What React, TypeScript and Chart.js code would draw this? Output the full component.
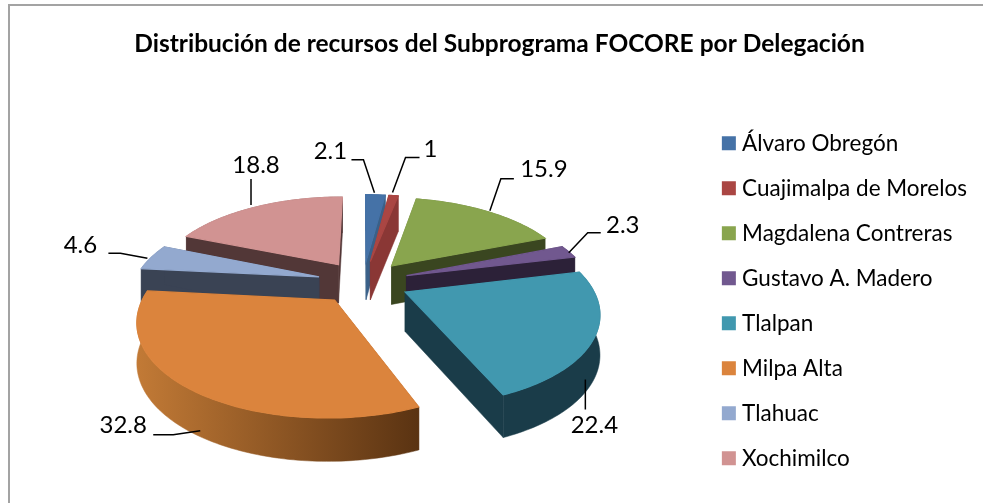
import React, { useEffect, useRef } from "react";
import { Chart, registerables } from "chart.js";

Chart.register(...registerables);

const titleText = "Distribución de recursos del Subprograma FOCORE por Delegación";
const delegaciones = [
  "Álvaro Obregón",
  "Cuajimalpa de Morelos",
  "Magdalena Contreras",
  "Gustavo A. Madero",
  "Tlalpan",
  "Milpa Alta",
  "Tlahuac",
  "Xochimilco",
];
const valores = [2.1, 1, 15.9, 2.3, 22.4, 32.8, 4.6, 18.8];
const topColors = ["#4572A7", "#AA4643", "#89A54E", "#71588F", "#4198AF", "#DB843D", "#93A9CF", "#D19392"];
const wallStart = ["#3a6088", "#8a3735", "#3a4620", "#2c2138", "#1a3c49", "#c27a36", "#3a4354", "#523737"];
const wallEnd = ["#3a6088", "#8a3735", "#3a4620", "#2c2138", "#1a3c49", "#5a3312", "#3a4354", "#523737"];
// leader line and label offsets from each slice's rim anchor: [start, elbow, end, text]
const leaderOffsets: number[][][] = [
  [[-1, -2], [-12, -35], [-24, -35], [-45, -44]],
  [[-1, -3], [12, -38], [26, -38], [37, -46]],
  [[2, -1], [13, -33], [26, -33], [56, -42]],
  [[0, 1], [19, -19], [32, -19], [54, -26]],
  [[-9, 1], [-9, 31], [-9, 31], [0, 47]],
  [[8, -2], [-19, 2], [-39, 2], [-69, -8]],
  [[-4, 1], [-31, -4], [-43, -4], [-71, -12]],
  [[-5, -2], [-5, -28], [-5, -28], [0, -42]],
];

const PERSPECTIVE = 0.00105;
const TILT = 0.47;
const DEPTH = 39;

const pie3d = {
  id: "pie3d",
  beforeDraw(chart: any) {
    const { ctx } = chart;
    ctx.save();
    ctx.fillStyle = "#ffffff";
    ctx.fillRect(0, 0, chart.width, chart.height);
    ctx.strokeStyle = "#a3a3a3";
    ctx.lineWidth = 2;
    ctx.strokeRect(9, 5, 1000, 520);
    ctx.restore();
  },
  beforeDatasetsDraw(chart: any) {
    const { ctx } = chart;
    const arcs = chart.getDatasetMeta(0).data;
    const geo = arcs.map((el: any, i: number) => {
      const p = el.getProps(["x", "y", "startAngle", "endAngle", "outerRadius"], true);
      const a0 = p.startAngle + Math.PI / 2;
      const a1 = p.endAngle + Math.PI / 2;
      const mid = (a0 + a1) / 2;
      const off = el.options.offset;
      const eu = off * Math.sin(mid);
      const ev = off * Math.cos(mid);
      const project = (r: number, a: number, lower: boolean) => {
        const u = eu + r * Math.sin(a);
        const v = ev + r * Math.cos(a);
        const w = 1 + PERSPECTIVE * v;
        return {
          x: p.x + u / w,
          y: p.y - (TILT * v) / w + (lower ? DEPTH / Math.pow(w, 0.4) : 0),
        };
      };
      return { i, a0, a1, mid, ev, R: p.outerRadius, project };
    });
    const order = [...geo].sort((a: any, b: any) => b.ev - a.ev);
    for (const g of order) {
      const rim = (lower: boolean) => {
        const pts = [];
        const steps = Math.max(4, Math.ceil((g.a1 - g.a0) / 0.02));
        for (let s = 0; s <= steps; s++) {
          pts.push(g.project(g.R, g.a0 + ((g.a1 - g.a0) * s) / steps, lower));
        }
        return pts;
      };
      const top = rim(false);
      const low = rim(true);
      const cTop = g.project(0, 0, false);
      const cLow = g.project(0, 0, true);
      const poly = (pts: any[], fill: any, edge: number) => {
        ctx.beginPath();
        pts.forEach((q: any, k: number) => (k ? ctx.lineTo(q.x, q.y) : ctx.moveTo(q.x, q.y)));
        ctx.closePath();
        ctx.fillStyle = fill;
        ctx.strokeStyle = fill;
        ctx.lineWidth = edge;
        ctx.fill();
        ctx.stroke();
      };
      poly([cTop, top[0], low[0], cLow], wallEnd[g.i], 0.5);
      poly([cTop, top[top.length - 1], low[low.length - 1], cLow], wallEnd[g.i], 0.5);
      const xs = top.map((q: any) => q.x);
      const grad = ctx.createLinearGradient(Math.min(...xs), 0, Math.max(...xs), 0);
      grad.addColorStop(0, wallStart[g.i]);
      grad.addColorStop(1, wallEnd[g.i]);
      poly([...top, ...[...low].reverse()], grad, 0.5);
      poly([cTop, ...top], topColors[g.i], 1.2);
    }
    // leader lines and value labels
    ctx.save();
    ctx.font = "24px Lato";
    ctx.textAlign = "center";
    ctx.textBaseline = "middle";
    geo.forEach((g: any) => {
      const lowerHalf = Math.cos(g.mid) < -0.3;
      const anchor = g.project(g.R, g.mid, lowerHalf);
      const [start, elbow, end, text] = leaderOffsets[g.i];
      ctx.beginPath();
      ctx.moveTo(anchor.x + start[0], anchor.y + start[1]);
      ctx.lineTo(anchor.x + elbow[0], anchor.y + elbow[1]);
      ctx.lineTo(anchor.x + end[0], anchor.y + end[1]);
      ctx.strokeStyle = "#000000";
      ctx.lineWidth = 1.5;
      ctx.stroke();
      ctx.fillStyle = "#000000";
      ctx.fillText(String(valores[g.i]), anchor.x + text[0], anchor.y + text[1]);
    });
    ctx.restore();
    return false;
  },
};

export default function App() {
  const ref = useRef<HTMLCanvasElement | null>(null);
  useEffect(() => {
    const chart = new Chart(ref.current as HTMLCanvasElement, {
      type: "pie",
      data: {
        labels: delegaciones,
        datasets: [
          {
            data: valores,
            backgroundColor: topColors,
            borderWidth: 0,
            offset: 46,
            radius: 185,
          } as any,
        ],
      },
      options: {
        animation: false,
        responsive: false,
        layout: { padding: { left: 22, right: 6, top: 29, bottom: 11 } },
        plugins: {
          tooltip: { enabled: false },
          title: {
            display: true,
            text: titleText,
            color: "#000000",
            font: { family: "Lato", size: 24.5, weight: "bold" },
            padding: { top: 0, bottom: 13.6 },
          },
          legend: {
            position: "right",
            align: "end",
            labels: {
              color: "#000000",
              font: { family: "Lato", size: 22.5 },
              usePointStyle: true,
              pointStyle: "rect",
              boxWidth: 4,
              boxHeight: 14,
              padding: 22.5,
            },
          },
        },
      },
      plugins: [pie3d],
    } as any);
    return () => chart.destroy();
  }, []);
  return (
    <div style={{ position: "absolute", left: 0, top: 0, width: 983, height: 503, background: "#fff" }}>
      <canvas ref={ref} width={983} height={503} style={{ display: "block" }} />
    </div>
  );
}
